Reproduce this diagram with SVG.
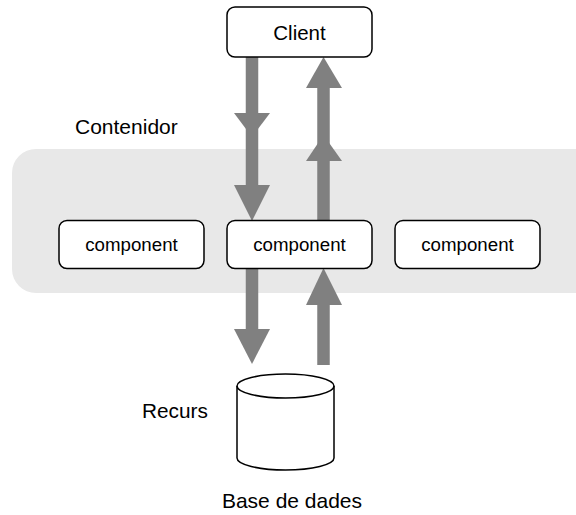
<svg xmlns="http://www.w3.org/2000/svg" width="576" height="515" viewBox="0 0 576 515">
<style>
.box{fill:#fff;stroke:#000;stroke-width:1.5}
.t{font-family:"Liberation Sans",Arial,sans-serif;fill:#000}
.shaft{stroke:#808080;stroke-width:12.5;fill:none}
.head{fill:#808080}
</style>
<rect width="576" height="515" fill="#fff"/>
<g id="container">
<rect x="12" y="149" width="600" height="144" rx="24" fill="#e8e8e8"/>
<text class="t" x="75" y="134" font-size="21">Contenidor</text>
</g>
<g id="connectors">
<line class="shaft" x1="252" y1="57" x2="252" y2="200"/>
<polygon class="head" points="234,113 270,113 252,137"/>
<polygon class="head" points="234,185 270,185 252,221"/>
<line class="shaft" x1="323.5" y1="220" x2="323.5" y2="80"/>
<polygon class="head" points="306,88 342,88 323.5,57"/>
<polygon class="head" points="306,161 342,161 323.5,135"/>
<line class="shaft" x1="252" y1="268" x2="252" y2="335"/>
<polygon class="head" points="234,329 270,329 252,364"/>
<line class="shaft" x1="323.5" y1="365" x2="323.5" y2="300"/>
<polygon class="head" points="306,305 342,305 323.5,268"/>
</g>
<g id="client">
<rect class="box" x="227" y="7" width="145" height="50" rx="8"/>
<text class="t" x="299.5" y="40" font-size="20.5" text-anchor="middle">Client</text>
</g>
<g id="component1">
<rect class="box" x="59" y="220.5" width="145" height="48" rx="8"/>
<text class="t" x="131.5" y="251" font-size="18.7" text-anchor="middle">component</text>
</g>
<g id="component2">
<rect class="box" x="227" y="220.5" width="145" height="48" rx="8"/>
<text class="t" x="299.5" y="251" font-size="18.7" text-anchor="middle">component</text>
</g>
<g id="component3">
<rect class="box" x="395" y="220.5" width="145" height="48" rx="8"/>
<text class="t" x="467.5" y="251" font-size="18.7" text-anchor="middle">component</text>
</g>
<g id="database">
<path class="box" d="M237,386 L237,458 A48.5,12 0 0 0 334,458 L334,386 A48.5,12 0 0 0 237,386 Z"/>
<path d="M237,386 A48.5,12 0 0 0 334,386" fill="none" stroke="#000" stroke-width="1.5"/>
<text class="t" x="142" y="418" font-size="20.8">Recurs</text>
<text class="t" x="292" y="508" font-size="21" text-anchor="middle">Base de dades</text>
</g>
</svg>
